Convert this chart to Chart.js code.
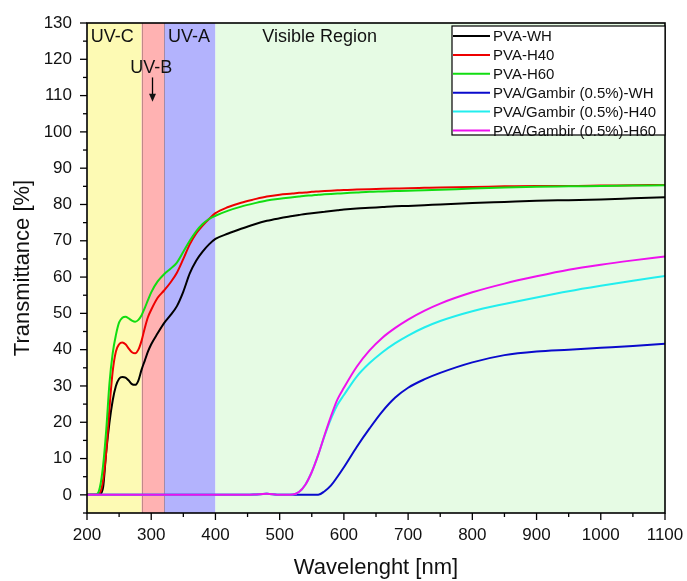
<!DOCTYPE html>
<html>
<head>
<meta charset="utf-8">
<script src="https://cdn.jsdelivr.net/npm/chart.js@4.4.1/dist/chart.umd.min.js"></script>
<style>
  html, body { margin: 0; padding: 0; background: #fff; }
  #wrap { width: 687px; height: 581px; }
</style>
</head>
<body>
<div id="wrap"><canvas id="chart" width="687" height="581"></canvas></div>
<script>
// wavelength grid (nm)
const wavelengths = [200, 210, 215, 220, 225, 230, 235, 240, 245, 250, 255, 260, 265, 270, 275, 280, 285, 290, 295, 300,
  310, 320, 330, 340, 350, 360, 370, 380, 390, 400, 420, 440, 460, 480, 500, 520, 530, 540, 550, 560,
  570, 580, 590, 600, 620, 640, 660, 680, 700, 725, 750, 800, 850, 900, 950, 1000, 1050, 1100];

const pvaWH = [0, 0, 0, 0.2, 2, 12, 20, 26, 30, 32, 32.5, 32.3, 31.5, 30.5, 30.3, 31.5, 34.5, 37, 39.5, 41.5,
  44.5, 47.3, 49.5, 52, 56, 61, 64.5, 67, 69, 70.5, 72, 73.3, 74.5, 75.5, 76.2, 76.8, 77.1, 77.4, 77.6, 77.8,
  78, 78.2, 78.4, 78.6, 78.9, 79.1, 79.3, 79.5, 79.6, 79.8, 80, 80.4, 80.7, 81, 81.2, 81.4, 81.7, 82];

const pvaH40 = [0, 0, 0, 0.5, 4, 12, 24, 34, 39.5, 41.5, 42, 41.5, 40.3, 39.3, 39, 40, 42.5, 46, 49, 51,
  54.3, 56.3, 58.5, 61.2, 65, 69, 72, 74.2, 76, 77.6, 79.3, 80.5, 81.4, 82.2, 82.7, 83, 83.2, 83.3, 83.5, 83.6,
  83.7, 83.8, 83.9, 84, 84.1, 84.2, 84.3, 84.4, 84.5, 84.6, 84.7, 84.8, 85, 85.1, 85.1, 85.2, 85.3, 85.4];

const pvaH60 = [0, 0, 0.1, 2, 8, 18, 30.8, 39, 44, 47.5, 48.8, 49.1, 48.6, 48, 47.7, 48.2, 49.5, 51.5, 53.7, 55.8,
  58.8, 60.8, 62.3, 64, 67, 70, 72.6, 74.6, 76, 76.9, 78.3, 79.4, 80.3, 81.1, 81.6, 82, 82.2, 82.4, 82.5, 82.7,
  82.8, 82.9, 83, 83.1, 83.3, 83.5, 83.6, 83.7, 83.8, 83.9, 84.05, 84.4, 84.7, 84.9, 85, 85.1, 85.2, 85.3];

const gambirWH = [0, 0, 0, 0, 0, 0, 0, 0, 0, 0, 0, 0, 0, 0, 0, 0, 0, 0, 0, 0,
  0, 0, 0, 0, 0, 0, 0, 0, 0, 0, 0, 0, 0.1, 0.3, 0, 0, 0, 0, 0, 0,
  1, 2.6, 5, 7.6, 13.2, 18.3, 23, 26.8, 29.5, 31.8, 33.6, 36.5, 38.5, 39.5, 40, 40.5, 41, 41.6];

const gambirH40 = [0, 0, 0, 0, 0, 0, 0, 0, 0, 0, 0, 0, 0, 0, 0, 0, 0, 0, 0, 0,
  0, 0, 0, 0, 0, 0, 0, 0, 0, 0, 0, 0, 0.1, 0.3, 0, 0.1, 0.8, 2.8, 6.3, 11,
  16.3, 21, 24.8, 27.5, 32.6, 36.3, 39.3, 41.8, 43.9, 46.1, 47.9, 50.6, 52.6, 54.4, 56.1, 57.6, 59, 60.3];

const gambirH60 = [0, 0, 0, 0, 0, 0, 0, 0, 0, 0, 0, 0, 0, 0, 0, 0, 0, 0, 0, 0,
  0, 0, 0, 0, 0, 0, 0, 0, 0, 0, 0, 0, 0.1, 0.3, 0, 0.1, 0.8, 2.8, 6.3, 11,
  16.5, 21.7, 26.3, 29.5, 35.3, 39.8, 43.3, 46, 48.3, 50.7, 52.7, 55.8, 58.2, 60.2, 62, 63.4, 64.6, 65.7];

const seriesNames = ['PVA-WH', 'PVA-H40', 'PVA-H60', 'PVA/Gambir (0.5%)-WH', 'PVA/Gambir (0.5%)-H40', 'PVA/Gambir (0.5%)-H60'];
const seriesValues = [pvaWH, pvaH40, pvaH60, gambirWH, gambirH40, gambirH60];
const seriesColors = ['#000000', '#ee0000', '#11dd11', '#0a0acc', '#22eeee', '#ee11ee'];

// spectral regions
const bandEdges = [200, 285, 320, 400, 1100];
const bandColors = ['#fdfab4', '#ffb2b2', '#b3b3fd', '#e6fbe4'];

const FONT = "'Liberation Sans', Arial, sans-serif";

const bandsPlugin = {
  id: 'bands',
  beforeDatasetsDraw(chart) {
    const { ctx, chartArea: a, scales: { x } } = chart;
    ctx.save();
    for (let i = 0; i < bandColors.length; i++) {
      const x0 = x.getPixelForValue(bandEdges[i]);
      const x1 = x.getPixelForValue(bandEdges[i + 1]);
      ctx.fillStyle = bandColors[i];
      ctx.fillRect(x0, a.top, x1 - x0, a.bottom - a.top);
    }
    ctx.strokeStyle = 'rgba(150,110,110,0.6)';
    ctx.lineWidth = 1;
    [285, 320].forEach(v => {
      const px = Math.round(x.getPixelForValue(v)) + 0.5;
      ctx.beginPath(); ctx.moveTo(px, a.top); ctx.lineTo(px, a.bottom); ctx.stroke();
    });
    ctx.restore();
  }
};

const decorPlugin = {
  id: 'decor',
  afterDraw(chart) {
    const { ctx, chartArea: a, scales: { x, y } } = chart;
    ctx.save();
    // frame
    ctx.strokeStyle = '#000';
    ctx.lineWidth = 1.6;
    ctx.strokeRect(a.left, a.top, a.right - a.left, a.bottom - a.top);
    // tick marks
    ctx.lineWidth = 1.3;
    for (let v = -5; v <= 130; v += 5) {
      const py = y.getPixelForValue(v);
      const len = v % 10 === 0 ? 7 : 4;
      ctx.beginPath(); ctx.moveTo(a.left, py); ctx.lineTo(a.left - len, py); ctx.stroke();
    }
    for (let v = 200; v <= 1100; v += 50) {
      const px = x.getPixelForValue(v);
      const len = v % 100 === 0 ? 7 : 4;
      ctx.beginPath(); ctx.moveTo(px, a.bottom); ctx.lineTo(px, a.bottom + len); ctx.stroke();
    }
    // region labels
    ctx.fillStyle = '#111';
    ctx.font = '18px ' + FONT;
    ctx.textBaseline = 'middle';
    ctx.textAlign = 'left';
    ctx.fillText('UV-C', x.getPixelForValue(206), y.getPixelForValue(126));
    ctx.fillText('UV-A', x.getPixelForValue(326), y.getPixelForValue(126));
    ctx.fillText('Visible Region', x.getPixelForValue(473), y.getPixelForValue(126));
    ctx.textAlign = 'center';
    ctx.fillText('UV-B', x.getPixelForValue(300), y.getPixelForValue(117.6));
    // arrow
    const ax = x.getPixelForValue(302);
    const ay0 = y.getPixelForValue(115), ay1 = y.getPixelForValue(108.3);
    ctx.lineWidth = 1.3;
    ctx.beginPath(); ctx.moveTo(ax, ay0); ctx.lineTo(ax, ay1 - 6); ctx.stroke();
    ctx.beginPath(); ctx.moveTo(ax - 3.5, ay1 - 8); ctx.lineTo(ax + 3.5, ay1 - 8); ctx.lineTo(ax, ay1); ctx.closePath(); ctx.fill();
    // legend
    const lx = 452, ly = 26, lw = a.right - lx, lh = 109;
    ctx.fillStyle = '#fff';
    ctx.fillRect(lx, ly, lw, lh);
    ctx.strokeStyle = '#000';
    ctx.lineWidth = 1.2;
    ctx.strokeRect(lx, ly, lw, lh);
    ctx.font = '15px ' + FONT;
    ctx.textAlign = 'left';
    chart.data.datasets.forEach((ds, i) => {
      const ry = 36 + i * 18.9;
      ctx.strokeStyle = ds.borderColor;
      ctx.lineWidth = 2;
      ctx.beginPath(); ctx.moveTo(lx + 1, ry); ctx.lineTo(lx + 38, ry); ctx.stroke();
      ctx.fillStyle = '#111';
      ctx.fillText(ds.label, lx + 41, ry + 1);
    });
    ctx.restore();
  }
};

const datasets = seriesNames.map((name, i) => ({
  label: name,
  data: wavelengths.map((w, j) => ({ x: w, y: seriesValues[i][j] })),
  borderColor: seriesColors[i],
  borderWidth: 2,
  pointRadius: 0,
  cubicInterpolationMode: 'monotone',
  fill: false,
  order: seriesNames.length - i
}));

new Chart(document.getElementById('chart'), {
  type: 'line',
  data: { datasets },
  options: {
    responsive: false,
    animation: false,
    events: [],
    layout: { padding: { top: 23, right: 22, left: 0, bottom: 0 } },
    plugins: { legend: { display: false }, tooltip: { enabled: false } },
    scales: {
      x: {
        type: 'linear',
        min: 200, max: 1100,
        border: { display: false },
        grid: { display: false, drawTicks: false },
        afterFit: s => { s.height = 68; s.paddingLeft = 0; s.paddingRight = 0; },
        ticks: {
          stepSize: 50, autoSkip: false, maxRotation: 0, padding: 12,
          color: '#111', font: { family: FONT, size: 17 },
          callback: v => (v % 100 === 0 ? v : '')
        },
        title: { display: true, text: 'Wavelenght [nm]', color: '#111', font: { family: FONT, size: 22 }, padding: { top: 0, bottom: 0 } }
      },
      y: {
        min: -5, max: 130,
        border: { display: false },
        grid: { display: false, drawTicks: false },
        afterFit: s => { s.width = 87; s.paddingTop = 0; s.paddingBottom = 0; },
        ticks: {
          stepSize: 5, autoSkip: false, padding: 15,
          color: '#111', font: { family: FONT, size: 17 },
          callback: v => (v % 10 === 0 && v >= 0 ? v : '')
        },
        title: { display: true, text: 'Transmittance [%]', color: '#111', font: { family: FONT, size: 22 }, padding: { top: 10, bottom: 0 } }
      }
    }
  },
  plugins: [bandsPlugin, decorPlugin]
});
</script>
</body>
</html>
